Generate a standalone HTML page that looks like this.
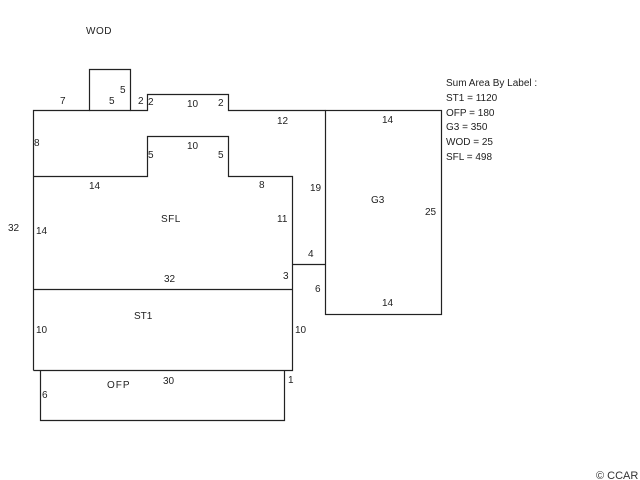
<!DOCTYPE html>
<html><head><meta charset="utf-8"><style>
html,body{margin:0;padding:0;background:#fff;}
svg{display:block;}
text{font-family:"Liberation Sans",sans-serif;font-size:10px;fill:#222;}
</style></head><body>
<svg width="640" height="480" viewBox="0 0 640 480" xmlns="http://www.w3.org/2000/svg">
<g fill="none" stroke="#222" stroke-width="1.2">
<path d="M33.5 370.5 V110.5 H89.5 V69.5 H130.5 V110.5 H147.5 V94.5 H228.5 V110.5 H325.5"/>
<path d="M89.5 110.5 H130.5"/>
<path d="M33.5 176.5 H147.5 V136.5 H228.5 V176.5 H292.5 V370.5 H33.5"/>
<path d="M33.5 289.5 H292.5"/>
<path d="M292.5 264.5 H325.5"/>
<rect x="325.5" y="110.5" width="116" height="204"/>
<path d="M40.5 370.5 V420.5 H284.5 V370.5"/>
</g>
<text x="86" y="34" letter-spacing="0.5">WOD</text>
<text x="60" y="104">7</text>
<text x="109" y="104">5</text>
<text x="120" y="93">5</text>
<text x="138" y="104">2</text>
<text x="148" y="105">2</text>
<text x="187" y="107">10</text>
<text x="218" y="106">2</text>
<text x="277" y="124">12</text>
<text x="34" y="146">8</text>
<text x="187" y="149">10</text>
<text x="148" y="158">5</text>
<text x="218" y="158">5</text>
<text x="89" y="189">14</text>
<text x="259" y="188">8</text>
<text x="310" y="191">19</text>
<text x="161" y="222" letter-spacing="0.5">SFL</text>
<text x="277" y="222">11</text>
<text x="8" y="231">32</text>
<text x="36" y="234">14</text>
<text x="308" y="257">4</text>
<text x="164" y="282">32</text>
<text x="283" y="279">3</text>
<text x="315" y="292">6</text>
<text x="134" y="319">ST1</text>
<text x="36" y="333">10</text>
<text x="295" y="333">10</text>
<text x="163" y="384">30</text>
<text x="107" y="388" letter-spacing="1">OFP</text>
<text x="288" y="383">1</text>
<text x="42" y="398">6</text>
<text x="382" y="123">14</text>
<text x="371" y="203">G3</text>
<text x="425" y="215">25</text>
<text x="382" y="306">14</text>
<text x="446" y="86">Sum Area By Label :</text>
<text x="446" y="101">ST1 = 1120</text>
<text x="446" y="116">OFP = 180</text>
<text x="446" y="130">G3 = 350</text>
<text x="446" y="145">WOD = 25</text>
<text x="446" y="160">SFL = 498</text>
<text x="596" y="479" style="font-size:11px;fill:#333">© CCAR</text>
</svg>
</body></html>
